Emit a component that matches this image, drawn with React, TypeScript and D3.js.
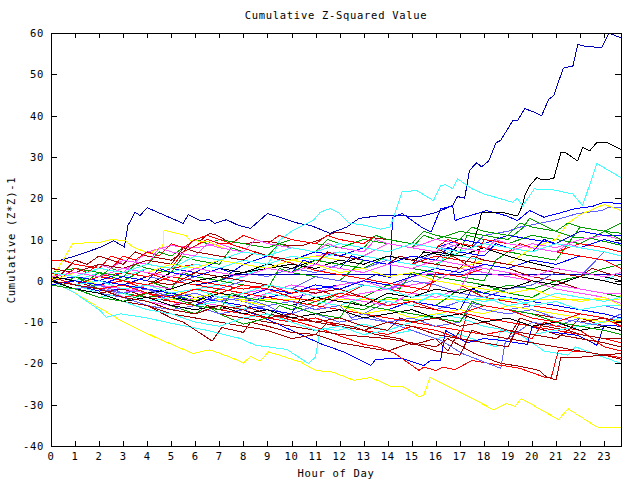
import React from "react";
import * as d3 from "d3";

const title = "Cumulative Z-Squared Value";
const xLabel = "Hour of Day";
const yLabel = "Cumulative (Z*Z)-1";
const xTicks = d3.range(0, 24);
const yTicks = [-40, -30, -20, -10, 0, 10, 20, 30, 40, 50, 60];
const xDomain = [0, 23.7];
const yDomain = [-40, 60];

const R = "#ff0000", DR = "#a00000", G = "#00a000", B = "#0000ff", NV = "#0000b4",
  MB = "#6060ff", M = "#ff50ff", C = "#40ffff", Y = "#ffff00", K = "#000000";

// each series: flat list of hour,value pairs
const seriesColors: string[] = [
  NV, B, MB, K, C, Y, Y, NV, C, B, R, DR, DR, DR, G, G, G, G, G, M, M, M, M,
  MB, MB, MB, B, B, B, R, R, R, R, R, DR, DR, DR, C, C, C, Y, Y, K, K,
  R, G, M, DR, B, MB, Y, C, K, G, R, M, DR, C,
];

const seriesPoints: number[][] = [
  [0,5, 0.4,5, 1,6, 2,8, 2.6,9.7, 3.05,8.2, 3.2,13.4, 3.5,16.6, 3.7,15.8, 4,17.7, 5.5,13.9, 5.7,16, 6.2,14.6, 6.6,14.8, 6.8,13.9, 7.3,14.8, 7.8,13.4, 8.3,12.7, 9,16.3, 9.5,15.4, 10.3,13.9, 10.8,13.4, 11.6,11.5, 12.3,13, 12.8,15.1, 13.7,15.8, 14.5,15.8, 15.3,15.5, 16,16.5, 16.7,18.2, 16.9,20.4, 17.2,20, 17.4,26.7, 17.7,28.6, 17.9,27.6, 18.2,29, 18.5,33.4, 18.7,34, 19.2,38.8, 19.4,38.8, 19.7,41.7, 20.1,40.8, 20.4,40, 20.7,44, 20.9,44.8, 21.3,51.5, 21.7,52, 21.9,57.2, 22.3,56.7, 22.9,56.5, 23.2,60, 23.7,58.8],
  [0,0, 1,-1, 2,0, 3,-2, 4,-3, 5,-2, 6,-4, 7,-3, 8,-5, 9,-4, 10,-3, 11,-2, 12,-1, 13,0, 13.5,1.5, 14.1,0.8, 14.2,15.4, 14.6,16.3, 15.4,13, 15.8,11.8, 16.2,17.4, 16.7,18.2, 16.8,14.6, 17.2,15.4, 17.9,16.6, 18.1,17, 18.9,15.8, 19.4,14.6, 19.9,17, 20.5,15.4, 21.2,16.5, 21.8,17.5, 22.5,18, 23,19, 23.7,18.7],
  [0,1, 1,0, 2,2, 3,1, 4,0, 5,-1, 6,1, 7,0, 8,2, 9,1, 10,3, 11,2, 12,4, 13,3, 14,5, 15,4, 16,7, 17,9, 17.5,8, 18,11, 19,12, 19.5,13, 20.9,14.6, 21.9,16.3, 22.9,17, 23.2,17.8, 23.7,17.8],
  [0,0, 1,-1, 2,1, 3,0, 4,-1, 5,2, 6,1, 7,3, 8,2, 9,4, 10,3, 11,5, 12,4, 13,6, 14,5, 15,4, 15.5,7, 16.5,6, 17,9, 17.5,8, 17.8,13.8, 17.9,16.5, 18.8,16.5, 19.4,15.7, 19.6,18.2, 19.7,20.6, 19.9,23, 20.2,25, 20.4,24.5, 20.9,24.7, 21.2,31, 21.4,31, 21.9,29, 22.1,32.3, 22.4,31.5, 22.7,33.5, 23.1,33.5, 23.7,31.8],
  [0,0, 1,-2, 2,-1, 3,-3, 4,-2, 5,-4, 6,-2, 7,-1, 8,1, 9,4, 9.2,5.7, 9.5,9.8, 10,12, 10.9,14.6, 11.2,16.6, 11.6,17.5, 12,16.3, 12.4,14, 13,13.5, 13.7,12.5, 14.1,13, 14.6,21.5, 15.2,21.9, 15.9,19.4, 16.2,23, 16.4,23.3, 16.7,22.3, 16.9,24.7, 17.5,22.3, 18.1,20.8, 18.5,20.2, 19.2,19, 19.4,20, 19.6,18, 20.1,22.3, 20.3,22, 20.9,22, 21.7,21, 22.1,18.2, 22.7,28.4, 23.7,25],
  [0,0, 1,-3, 2,-6.5, 2.9,-9.6, 4.3,-13.6, 5.9,-17.6, 6.6,-16.7, 7.5,-18.6, 8,-19.9, 8.3,-18.3, 8.7,-19.4, 9.05,-17.2, 10.4,-19.7, 11,-21.7, 11.7,-22.1, 12.6,-24.1, 13.3,-23.4, 14.1,-25.5, 14.6,-25.5, 15.3,-28, 15.5,-27.7, 15.75,-23.4, 17.1,-27.3, 18.4,-31.2, 18.95,-29.7, 19.3,-30.4, 19.55,-28.5, 21.1,-33.6, 21.5,-31, 22.7,-35.4, 23.7,-35.5],
  [0,0, 1,1, 2,-1, 3,-2, 4,-3, 4.8,-4.5, 23.6,-4.5, 23.7,-3.5],
  [0,2, 1,1, 2,0, 3,-1, 4,1, 5,0, 6,-1, 7,0, 7.6,1.5, 23.7,1.5],
  [0,0, 1,-3, 2,-7, 2.3,-8.8, 2.9,-8, 4,-9, 5.1,-10.4, 6.5,-12, 7.9,-14, 8.5,-15.6, 9.8,-16.6, 10.7,-20, 11,-18.5, 11.2,-11.5, 11.9,-12, 13,-10.5, 14.4,-12.7, 15,-12, 16,-14, 17,-13, 18,-15, 18.5,-16, 18.7,-12, 19.5,-13, 20.5,-17, 21.5,-18, 21.8,-16, 23.7,-20],
  [0,0, 1,-1, 2,-2.5, 3,-2, 4,-4, 5,-3.5, 6,-5, 7,-6, 8,-7, 9.1,-9.6, 10,-12, 11.2,-15.2, 12.2,-17.3, 13.3,-20.5, 13.5,-19, 14.6,-18.8, 15.5,-20.5, 15.8,-19.2, 16.2,-19.4, 16.4,-12, 17.3,-15, 18,-14, 18.7,-14.4, 19.8,-15.4, 20,-11.2, 20.8,-12.4, 21.9,-13.2, 22.7,-15.6, 23,-10.8, 23.7,-11],
  [0,1, 1,0, 2,-1, 3,0, 4,-2, 5,-3, 6,-4, 7,-5, 8,-6, 9,-8, 10,-9.5, 11,-11.2, 13,-15.4, 13.6,-16, 14.3,-17.6, 15.3,-21.7, 15.5,-20.9, 16,-21.7, 16.3,-20.9, 16.8,-21.5, 17.5,-19.3, 19.5,-21.2, 20.5,-23.3, 20.8,-23.4, 21.1,-16.8, 22.2,-17.2, 23.7,-18.6],
  [0,0, 1,-1, 2,-3, 3,-2, 4,-4, 5,-5, 6,-6, 7,-8, 8,-9, 9,-10, 10,-11, 11,-12, 12,-13, 13,-13.5, 14,-14, 15,-15, 16,-16, 16.5,-14, 17.6,-17.6, 18.7,-20, 19.5,-20.7, 20.3,-21.7, 20.6,-23.3, 21,-24, 21.2,-18.5, 22,-18.5, 23.7,-17.6],
  [0,1, 1,0, 2,-2, 3,-4, 4,-6, 5,-9, 5.5,-10, 6.7,-14.6, 7.1,-11.3, 8,-12.5, 8.3,-10, 9,-11, 10,-12.5, 11,-13, 11.5,-10, 12.5,-11, 13.5,-13, 14.5,-14, 15,-15.5, 16,-14, 16.5,-17, 17,-12, 18,-13, 19,-14, 19.5,-9, 20.5,-11, 21.5,-12, 22,-9, 23,-11, 23.7,-12],
  [0,0, 0.5,2, 1,5, 1.5,4, 2,6, 2.5,5, 3,4, 3.5,7, 4,6, 5,5, 5.5,7, 5.9,9.7, 6.2,9.7, 6.6,11.5, 6.9,11, 7.3,9.7, 8,9, 8.7,9.4, 9.2,9.4, 9.8,8.6, 10.5,8.6, 11.2,10, 11.7,11.5, 12,11.8, 13.1,10.6, 14,10, 15,9, 16,8, 17,5, 18,4, 19,3, 20,1, 21,0, 22,-2, 23,-3, 23.7,-4],
  [0,0, 1,2, 2,1, 2.5,3, 3,2, 4,4, 4.5,7, 5,6, 6,10, 6.5,9, 7,10, 8,9, 9,8, 10,10, 11,9, 12,8, 13,10, 14,9, 15,8, 15.5,11, 16,10, 17,12, 18,11, 19,10, 19.6,12.7, 19.9,15.1, 20.9,12.2, 21.7,10.6, 22.5,10.2, 23.7,8.6],
  [0,1, 1,0, 2,-1, 3,1, 4,0, 5,-2, 5.5,2, 6,1, 7,0, 8,4, 9,3, 10,2, 11,5, 12,4, 13,3, 14,6, 15,5, 16,4, 17,7, 17.3,11, 18,10, 19,9, 20,11, 21,10, 22,9, 23,12, 23.7,11.5],
  [0,0, 1,-1, 2,-3, 3,-4, 4,-5, 5,-6, 6,-8, 6.5,-6, 7,-8, 8,-10.5, 9,-9, 9.5,-6, 10,-7, 11,-5, 12,-6, 13,-7, 14,-4, 15,-5, 16,-6, 17,-2, 18,-3, 19,-1, 20,-2, 21,0, 22,1, 23,3, 23.7,4],
  [0,2, 1,3, 2,2, 3,0, 4,3, 5,2, 6,1, 7,0, 8,-1, 9,-2, 9.5,3, 10,2, 11,1, 12,0, 13,5, 14,4, 15,3, 16,2, 17,1, 18,0, 18.5,5, 19,7, 20,6, 21,5, 22,13, 23,12, 23.7,14],
  [0,0, 1,1, 2,-2, 3,-3, 4,-4, 5,-3, 6,-5, 7,-2, 8,-3, 9,-4, 10,-5, 11,-6, 12,-3, 13,-4, 14,-1, 14.5,-2, 15,2, 16,1, 17,0, 18,-1, 19,-3, 20,-4, 21,-1, 22,-2, 23,-3, 23.7,-4],
  [0,0, 1,1, 2,3, 3,2, 4,7, 5,8.5, 6,8, 7,9, 8,7, 9,6, 10,5, 11,6, 12,7, 13,6, 14,9, 15,8, 16,10, 17,9, 18,8, 19,7, 20,9, 21,8, 22,10, 23,11, 23.7,10],
  [0,0, 1,-1, 2,-2, 3,-3, 4,-1, 5,-2, 6,-4, 7,-3, 8,-5, 9,-3, 10,-1, 11,-2, 12,-4, 13,-3, 14,-2, 15,1, 16,2, 17,1, 18,4, 19,3, 20,5, 21,4, 22,6, 23,5, 23.7,5],
  [0,1, 1,0, 2,-1, 3,-2, 4,-3, 5,-4, 6,-5, 7,-6, 8,-7, 9,-6, 10,-5, 11,-7, 12,-4, 13,-5, 14,-6, 15,-3, 16,-4, 17,-2, 17.5,3, 18,2, 19,1, 20,0, 21,-2, 22,-3, 23,-4, 23.7,-5.5],
  [0,-1, 1,-2, 2,-1, 3,-4, 4,-5, 5,-6, 6,-4, 7,-5, 8,-3, 9,-2, 10,-4, 11,-3, 12,-1, 13,0, 14,-2, 15,-1, 16,0, 17,3, 18,2, 19,1, 20,0, 21,-1, 22,-2, 23,-3, 23.7,-3],
  [0,0, 1,-2, 2,-3, 3,-4, 4,-6, 5,-7, 6,-6, 7,-8, 8,-7, 9,-6, 10,-9, 11,-8, 12,-10, 13,-9, 14,-10, 15,-12, 16.2,-14.4, 17.1,-17.6, 18.7,-21.2, 18.9,-14.4, 19.5,-12, 20,-10, 21,-11, 22,-9, 23,-10, 23.7,-8],
  [0,2, 1,1, 2,0, 3,2, 4,1, 5,0, 6,-1, 7,-2, 8,0, 9,-1, 10,-2, 11,1, 12,0, 13,-1, 14,-2, 15,0, 16,-1, 17,-3, 18,-4, 19,-2, 20,-1, 21,2, 22,1, 23,7, 23.7,6],
  [0,0, 1,-1, 2,-2, 3,-3, 4,-2, 5,-5, 6,-6, 7,-4, 8,-5, 9,-7, 10,-8, 11,-6, 12,-7, 13,-8, 14,-5, 15,-6, 16,-7, 17,-5, 18,-6, 19,-7, 20,-6, 21,-5, 22,-7, 23,-6, 23.7,-7],
  [0,0, 1,1, 2,0, 3,2, 4,1, 5,3, 6,2, 7,5, 8,4, 9,6, 10,5, 11,7, 12,6, 13,8, 14,7, 15,9, 16,8, 17,10, 18,9, 19,11, 20,10, 21,9, 22,12, 23,11, 23.7,11],
  [0,-1, 1,-2, 2,-4, 3,-3, 4,-5, 5,-4, 6,-6, 7,-3, 8,-4, 9,-2, 10,-3, 11,-1, 12,-2, 13,0, 14,-1, 15,1, 16,3, 17,2, 18,4, 19,3, 20,5, 21,4, 22,6, 23,5, 23.7,4.9],
  [0,2, 1,1, 2,0, 3,-1, 4,-2, 5,-3, 6,-4, 7,-5, 8,-6, 9,-7, 10,-8, 10.5,-3, 11,-4, 12,-5, 13,-6, 14,-7, 15,-5, 16,-6, 17,-7, 17.5,-2, 18,-3, 19,-4, 20,-5, 21,-6, 22,-7, 23,-8, 23.7,-9],
  [0,5, 0.5,5, 1,4, 2,3, 2.5,6, 3,5, 4,4, 5,3, 5.5,7, 6.5,10, 7,9, 7.4,9, 9,6, 11,2.5, 13,0.5, 15.7,-2.3, 16,2, 17,1, 18,3, 19,2, 20,0, 21,-1, 22,1, 23,0, 23.7,-1],
  [0,0, 1,-1, 2,1, 3,2, 4,1, 5,3, 6,4, 7,3, 8,5, 9,4, 10,6, 11,5, 12,7, 13,6, 14,5, 15,4, 16,6, 17,5, 17.5,3, 18,10, 19,9, 20,8, 21,7, 22,6, 23,5, 23.7,3],
  [0,1, 1,-1, 2,-2, 3,-4, 4,-3, 5,-5, 6,-6, 7,-7, 8,-8, 9,-9, 10,-10, 11,-9, 12,-11, 13,-12, 14,-13, 15,-11, 16,-12, 17,-14, 17.3,-8, 18,-9, 19,-10, 20,-11, 21,-12, 22,-13, 23,-14, 23.7,-15],
  [0,0, 1,2, 2,1, 3,3, 4,2, 5,0, 6,-1, 7,-2, 8,-3, 9,-4, 10,-5, 11,-6, 12,-7, 13,-8, 14,-9, 15,-10, 16,-11, 17,-12, 18,-13, 19,-12, 20,-14, 20.5,-10, 21,-11, 22,-12, 23,-16, 23.7,-17],
  [0,3, 1,2, 2,1, 3,0, 4,-1, 5,1, 6,0, 7,-1, 8,-2, 9,-1, 10,-3, 11,-2, 12,-4, 13,-1, 14,-2, 15,-3, 16,0, 17,-1, 18,-4, 19,-5, 20,-6, 21,-7, 22,-8, 23,-9, 23.7,-10],
  [0,0, 1,-1, 2,-3, 3,-2, 4,-4, 5,-6, 6,-5, 7,-7, 8,-6, 9,-8, 10,-9, 11,-10, 12,-11, 13,-12, 14,-10, 15,-11, 16,-13, 17,-14, 18,-15, 19,-16, 19.5,-10, 20,-11, 21,-13, 22,-14, 23,-15, 23.7,-16],
  [0,1, 1,0, 2,-1, 3,1, 4,0, 5,-1, 6,2, 7,1, 8,0, 9,-1, 10,-2, 11,-3, 12,-2, 13,-4, 14,-5, 15,-6, 16,-7, 17,-8, 18,-6, 19,-7, 20,-8, 21,-9, 22,-10, 23,-9, 23.7,-10],
  [0,-1, 1,-2, 2,-3, 3,-5, 4,-6, 5,-8, 6,-9, 7,-10, 8,-11, 9,-12, 10,-14, 11,-13, 12,-15, 13,-16, 14,-17, 15,-15, 16,-17, 17,-18, 17.5,-12, 18,-13, 19,-14, 20,-15, 21,-16, 22,-17, 23,-18, 23.7,-19],
  [0,0, 1,-1, 2,-3, 3,-5, 4,-7, 5,-8, 6,-10, 7,-11, 8,-9, 9,-8, 10,-10, 11,-12, 12,-11, 13,-13, 14,-12, 15,-10, 16,-8, 17,-9, 18,-11, 19,-12, 20,-13, 21,-12, 22,-11, 23,-10, 23.7,-9],
  [0,1, 1,0, 2,2, 3,1, 4,3, 5,2, 6,4, 7,3, 8,5, 9,4, 10,6, 11,5, 12,7, 13,6, 14,5, 15,4, 16,3, 16.5,7, 17,6, 18,5, 19,4, 20,3, 21,2, 22,1, 23,0, 23.7,2],
  [0,-1, 1,-2, 2,-4, 3,-3, 4,-5, 5,-4, 6,-6, 7,-5, 8,-7, 9,-3, 10,-4, 11,-5, 12,-6, 13,-4, 14,-5, 15,-6, 16,-3, 17,-4, 18,-5, 19,-4, 20,-6, 21,-5, 22,-7, 23,-6, 23.7,-6],
  [0,0, 0.9,9, 2.1,9.4, 2.5,10, 3.1,9.7, 3.4,8.2, 4.1,6.6, 4.65,8.3, 4.7,12.2, 5.6,11, 5.8,9.8, 6.6,9.4, 7.2,7.8, 8,7, 9,6, 10,5, 11,6, 12,5, 13,4, 14,6, 15,5, 16,4, 17,3, 18,5, 19,4, 20,8, 21,10, 21.5,14, 22,16, 22.4,17, 23,18.5, 23.7,17],
  [0,0, 1,-1, 2,-2, 3,-1, 4,-3, 5,-2, 6,-4, 7,-3, 8,-5, 9,-6, 10,-5, 11,-7, 12,-6, 13,-8, 14,-7, 15,-9, 16,-8, 17,-7, 18,-8, 19,-6, 20,-7, 21,-8, 22,-9, 23,-10, 23.7,-9.6],
  [0,0, 1,-1, 2,-2, 3,-1, 4,-3, 5,-2, 6,0, 7,1, 8,2, 9,3, 10,4, 11,3, 12,5, 13,4, 14,6, 15,5, 16,7, 17,6, 18,8, 19,6, 19.9,4.5, 21,3, 22,2, 23,1, 23.7,0],
  [0,1, 1,0, 2,-1, 3,-3, 4,-2, 5,-4, 6,-5, 7,-3, 8,-4, 9,-5, 10,-6, 11,-4, 12,-5, 13,-6, 14,-3, 15,-4, 16,-2, 17,-3, 18,-1, 19,-2, 20,0, 21,-1, 22,1, 23,0, 23.7,-1],
  [0,2, 0.5,1, 1,3, 1.5,2, 2,4, 2.5,3, 3,6, 3.5,5, 4,7, 4.5,6, 5,9, 5.5,8, 6,10, 6.5,11, 7,10, 7.5,9, 8,11, 8.5,10, 9,9, 9.5,11, 10,10, 11,9, 11.5,11, 12,10, 13,9, 13.5,11, 14,10, 15,9, 16,8, 16.5,10, 17,9, 18,8, 19,7, 19.5,9, 20,8, 21,7, 22,9, 23,8, 23.7,7],
  [0,0, 0.5,-1, 1,1, 1.5,0, 2,2, 3,1, 3.5,4, 4,3, 5,2, 5.5,6, 6,5, 7,4, 7.5,8, 8,7, 9,6, 9.5,9, 10,8, 11,7, 11.5,10, 12,9, 13,8, 13.5,11, 14,10, 15,9, 15.5,12, 16,11, 17,10, 17.5,13, 18,12, 19,11, 19.5,14, 20,13, 21,12, 21.5,14, 22,13, 23,12, 23.7,10],
  [0,0, 1,2, 2,4, 2.5,3, 3,5, 4,4, 4.5,8, 5,7, 6,6, 6.5,9, 7,8, 8,7, 8.5,10, 9,9, 10,8, 11,7, 11.5,9, 12,8, 13,7, 13.5,10, 14,9, 15,8, 16,7, 16.5,9, 17,8, 18,7, 18.5,10, 19,9, 20,8, 21,7, 21.5,9, 22,8, 23,7, 23.7,6],
  [0,3, 1,2, 2,4, 3,3, 4,5, 5,4, 5.5,8, 6,7, 7,6, 8,5, 8.5,7, 9,6, 10,5, 11,4, 11.5,7, 12,6, 13,5, 14,4, 14.5,6, 15,5, 16,4, 17,3, 17.5,6, 18,5, 19,4, 20,3, 21,2, 22,1, 22.5,3, 23,2, 23.7,1],
  [0,-1, 1,0, 2,-1, 3,1, 4,0, 4.5,3, 5,2, 6,1, 7,3, 7.5,2, 8,4, 9,3, 10,2, 10.5,5, 11,4, 12,3, 12.5,6, 13,5, 14,4, 15,6, 16,5, 16.5,8, 17,7, 18,6, 18.5,9, 19,8, 20,7, 20.5,10, 21,9, 22,8, 23,10, 23.7,9],
  [0,0, 1,-2, 2,-1, 3,-3, 4,-2, 5,-4, 6,-3, 7,-5, 8,-4, 9,-6, 10,-5, 11,-7, 12,-6, 12.5,-9, 13,-8, 14,-10, 15,-9, 16,-11, 17,-10, 17.5,-6, 18,-7, 19,-8, 20,-7, 21,-9, 22,-10, 23,-11, 23.7,-12],
  [0,0, 1,2, 2,1, 3,3, 4,2, 5,4, 6,3, 7,5, 8,4, 9,3, 10,5, 11,4, 12,2, 13,3, 14,1, 15,2, 16,0, 17,-1, 18,-2, 19,-3, 20,-2, 21,-4, 22,-5, 23,-4, 23.7,-6],
  [0,0, 1,-1, 2,0, 3,-2, 4,-1, 5,-3, 6,-2, 7,-4, 8,-3, 9,-1, 10,-2, 11,-4, 12,-3, 13,-1, 14,-2, 15,-4, 16,-3, 17,-5, 18,-4, 19,-6, 20,-5, 21,-3, 22,-4, 23,-5, 23.7,-4],
  [0,0, 1,-2, 2,-3, 3,-5, 4,-4, 5,-6, 6,-7, 7,-6, 8,-8, 9,-7, 10,-9, 11,-8, 12,-7, 13,-9, 14,-8, 15,-7, 16,-9, 17,-8, 18,-10, 19,-9, 20,-11, 21,-10, 22,-12, 23,-11, 23.7,-12],
  [0,-1, 1,-2, 2,-4, 3,-5, 4,-3, 5,-4, 6,-6, 7,-7, 7.5,-3, 8,-4, 9,-5, 10,-6, 11,-8, 12,-9, 12.5,-5, 13,-6, 14,-7, 15,-8, 16,-9, 17,-10, 17.5,-5, 18,-6, 19,-7, 20,-8, 21,-10, 22,-11, 23,-12, 23.7,-13],
  [0,0, 1,-1, 2,-2, 3,-1, 4,-3, 5,-4, 6,-2, 7,-3, 8,-1, 9,-2, 10,-4, 11,-5, 12,-3, 13,-4, 14,-6, 15,-5, 16,-7, 17,-8, 18,-6, 19,-7, 20,-9, 21,-10, 22,-8, 23,-9, 23.7,-11],
  [0,1, 1,2, 2,1, 3,3, 4,2, 5,1, 6,3, 7,2, 8,1, 9,3, 10,2, 11,4, 12,3, 13,2, 14,4, 15,3, 16,5, 17,4, 18,3, 19,2, 20,1, 21,3, 22,2, 23,1, 23.7,2],
  [0,0, 1,-1, 2,-2, 3,-4, 4,-5, 5,-7, 6,-8, 7,-6, 8,-7, 9,-9, 10,-8, 11,-10, 12,-9, 13,-11, 14,-12, 14.5,-9, 15,-10, 16,-9, 17,-11, 18,-10, 19,-12, 20,-13, 21,-14, 21.5,-12, 22,-13, 23,-14, 23.7,-14],
  [0,2, 1,1, 2,3, 3,2, 4,4, 5,3, 6,6, 7,5, 8,7, 9,6, 10,8, 11,7, 12,9, 13,8, 14,7, 15,9, 16,8, 17,7, 18,9, 19,8, 20,7, 21,9, 22,8, 23,7, 23.7,6],
];

const L = 51, Rt = 621, T = 33, Bt = 446;
const FONT = "'DejaVu Sans Mono', monospace";

export default function App() {
  const x = d3.scaleLinear().domain(xDomain).range([L, Rt]);
  const y = d3.scaleLinear().domain(yDomain).range([Bt, T]);
  const line = d3.line<[number, number]>().x((d) => x(d[0])).y((d) => y(d[1]));
  const toPairs = (a: number[]) => {
    const out: [number, number][] = [];
    for (let i = 0; i < a.length; i += 2) out.push([a[i], a[i + 1]]);
    return out;
  };
  const txt = { fontFamily: FONT, fontSize: 10.5, letterSpacing: 0.7, fill: "#000" } as const;
  return (
    <svg width={640} height={480} style={{ position: "absolute", left: 0, top: 0, background: "#fff" }}>
      <rect x={0} y={0} width={640} height={480} fill="#fff" />
      <defs>
        <clipPath id="plot">
          <rect x={L} y={T} width={Rt - L} height={Bt - T} />
        </clipPath>
      </defs>
      <g clipPath="url(#plot)">
        {seriesPoints.map((pts, i) => (
          <path key={i} d={line(toPairs(pts)) || ""} fill="none" stroke={seriesColors[i]}
            strokeWidth={1} shapeRendering="crispEdges" />
        ))}
      </g>
      <rect x={L + 0.5} y={T + 0.5} width={Rt - L} height={Bt - T} fill="none" stroke="#000" strokeWidth={1} shapeRendering="crispEdges" />
      {xTicks.map((t) => (
        <g key={"x" + t}>
          <line x1={Math.round(x(t)) + 0.5} x2={Math.round(x(t)) + 0.5} y1={Bt} y2={Bt - 5} stroke="#000" shapeRendering="crispEdges" />
          <line x1={Math.round(x(t)) + 0.5} x2={Math.round(x(t)) + 0.5} y1={T} y2={T + 5} stroke="#000" shapeRendering="crispEdges" />
          <text x={x(t)} y={460} textAnchor="middle" style={txt}>{t}</text>
        </g>
      ))}
      {yTicks.map((t) => (
        <g key={"y" + t}>
          <line x1={L} x2={L + 6} y1={Math.round(y(t)) + 0.5} y2={Math.round(y(t)) + 0.5} stroke="#000" shapeRendering="crispEdges" />
          <line x1={Rt} x2={Rt - 6} y1={Math.round(y(t)) + 0.5} y2={Math.round(y(t)) + 0.5} stroke="#000" shapeRendering="crispEdges" />
          <text x={44} y={y(t) + 4} textAnchor="end" style={txt}>{t}</text>
        </g>
      ))}
      <text x={336} y={19} textAnchor="middle" style={txt}>{title}</text>
      <text x={336} y={477} textAnchor="middle" style={txt}>{xLabel}</text>
      <text transform={`translate(15,240) rotate(-90)`} textAnchor="middle" style={txt}>{yLabel}</text>
    </svg>
  );
}
